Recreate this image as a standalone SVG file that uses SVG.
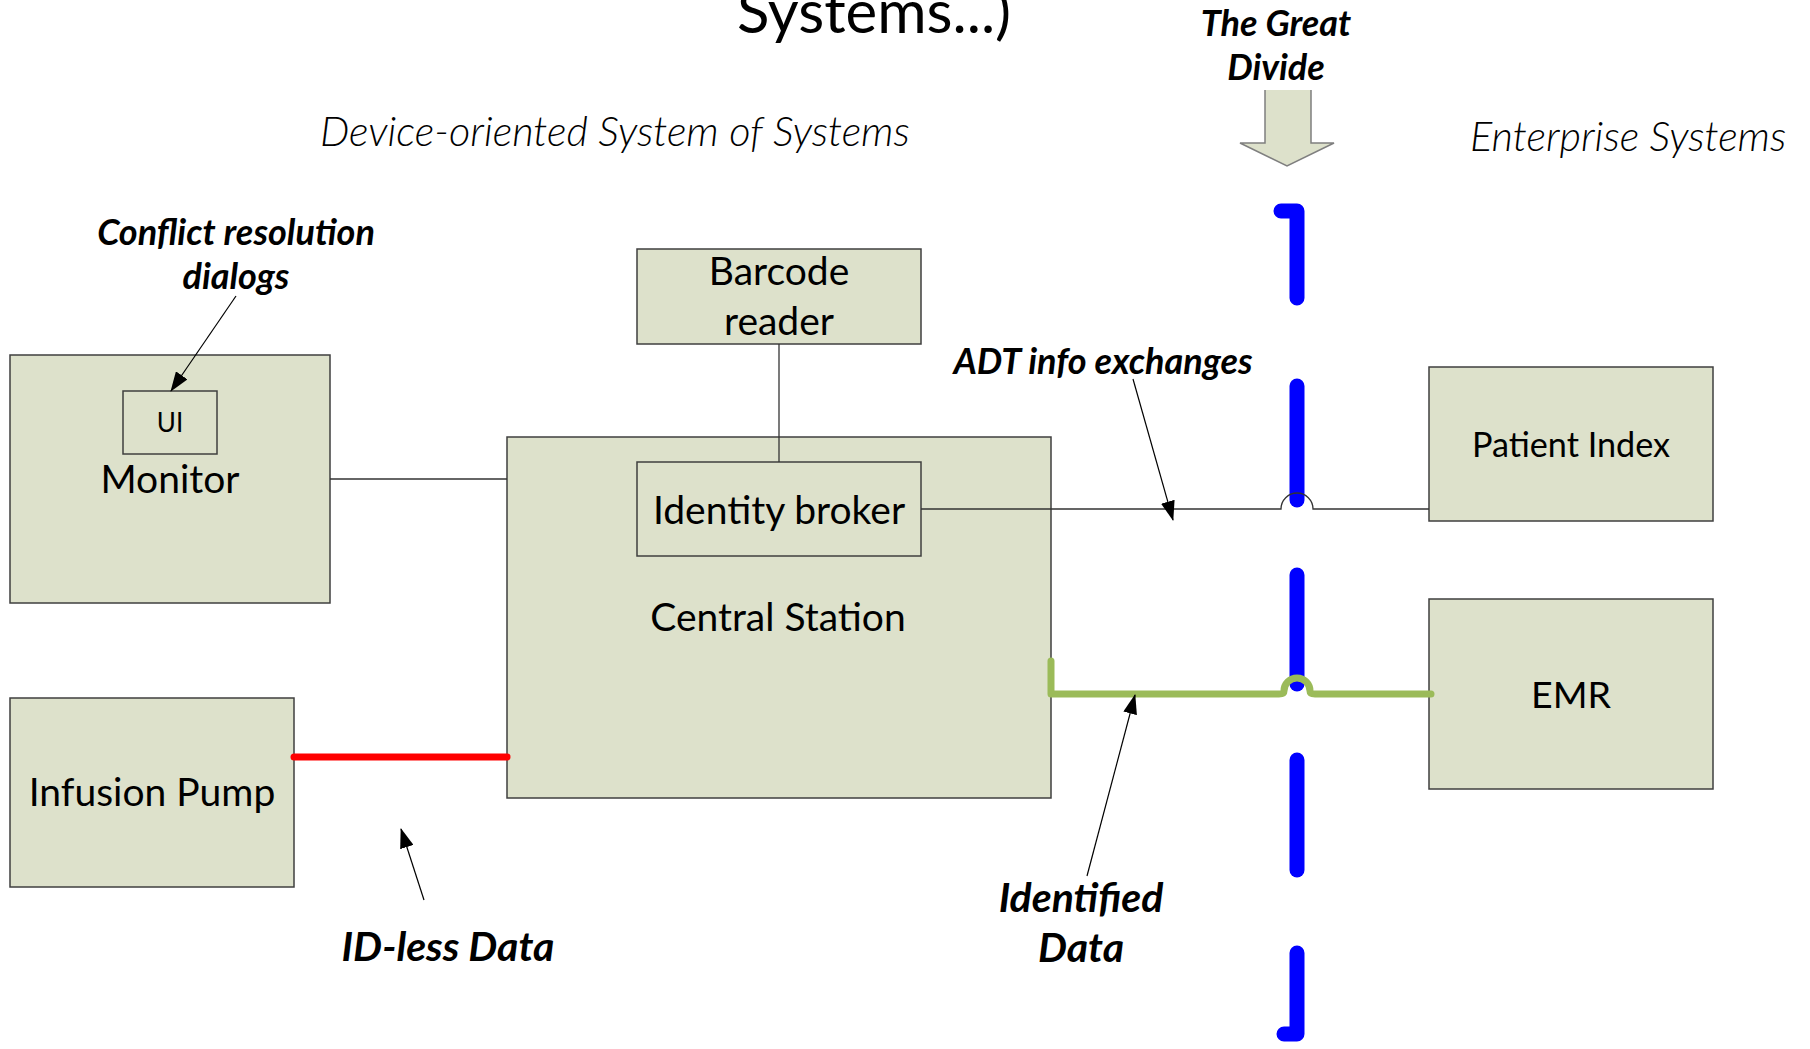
<svg xmlns="http://www.w3.org/2000/svg" width="1810" height="1049" viewBox="0 0 1810 1049">
  <style>
    .box { fill: #DDE1CB; stroke: #3F3F3F; stroke-width: 1.5; }
    .lbl { font-family: Lato, "Open Sans", sans-serif; font-size: 39px; fill: #000; text-anchor: middle; }
    .note { font-family: Lato, "Open Sans", sans-serif; font-weight: bold; font-style: italic; font-size: 36px; fill: #000; text-anchor: middle; }
    .note-lg { font-size: 41px; }
    .side { font-family: Lato, "Open Sans", sans-serif; font-weight: 300; font-style: italic; font-size: 41.5px; fill: #000; }
    .wire { fill: none; stroke: #333; stroke-width: 1.3; }
    .pointer { fill: none; stroke: #000; stroke-width: 1.2; marker-end: url(#tip); }
    .divide { fill: none; stroke: #0000FF; stroke-width: 15; stroke-linecap: round; stroke-linejoin: round; }
  </style>
  <defs>
    <marker id="tip" viewBox="0 0 20 14" refX="19" refY="7" markerWidth="20" markerHeight="14" markerUnits="userSpaceOnUse" orient="auto">
      <path d="M0,0 L20,7 L0,14 Z" fill="#000"/>
    </marker>
  </defs>

  <rect width="1810" height="1049" fill="#fff"/>

  <!-- headings -->
  <text x="874" y="33" font-family="Lato, 'Open Sans', sans-serif" font-size="60" text-anchor="middle">Systems...)</text>
  <text class="side" x="320" y="146">Device-oriented System of Systems</text>
  <text class="side" x="1470" y="151">Enterprise Systems</text>

  <g id="great-divide">
    <text class="note" x="1276" y="36">The Great</text>
    <text class="note" x="1276" y="80">Divide</text>
    <polygon points="1265,90 1311,90 1311,143 1334,143 1287,166 1240,143 1265,143" fill="#DDE1CB"/>
    <path d="M1311,90 V143 H1334 L1287,166 L1240,143 H1265 V90" fill="none" stroke="#7F7F7F" stroke-width="1.5"/>
  </g>

  <!-- dividing line between device and enterprise sides -->
  <g id="divide-line">
    <path class="divide" d="M1281,211 H1297 V298"/>
    <path class="divide" d="M1297,386 V500"/>
    <path class="divide" d="M1297,575 V684"/>
    <path class="divide" d="M1297,760 V870"/>
    <path class="divide" d="M1297,953 V1034 H1284"/>
  </g>

  <!-- nodes -->
  <g id="monitor">
    <rect class="box" x="10" y="355" width="320" height="248"/>
    <text class="lbl" x="170" y="493">Monitor</text>
  </g>
  <g id="ui">
    <rect class="box" x="123" y="391" width="94" height="63"/>
    <text class="lbl" x="170" y="432" style="font-size:26px">UI</text>
  </g>
  <g id="infusion-pump">
    <rect class="box" x="10" y="698" width="284" height="189"/>
    <text class="lbl" x="152" y="806">Infusion Pump</text>
  </g>
  <g id="barcode-reader">
    <rect class="box" x="637" y="249" width="284" height="95"/>
    <text class="lbl" x="779" y="285">Barcode</text>
    <text class="lbl" x="779" y="335">reader</text>
  </g>
  <g id="central-station">
    <rect class="box" x="507" y="437" width="544" height="361"/>
    <text class="lbl" x="778" y="631">Central Station</text>
  </g>
  <g id="identity-broker">
    <rect class="box" x="637" y="462" width="284" height="94"/>
    <text class="lbl" x="779" y="524">Identity broker</text>
  </g>
  <g id="patient-index">
    <rect class="box" x="1429" y="367" width="284" height="154"/>
    <text class="lbl" x="1571" y="457" style="font-size:34.2px">Patient Index</text>
  </g>
  <g id="emr">
    <rect class="box" x="1429" y="599" width="284" height="190"/>
    <text class="lbl" x="1571" y="708" style="font-size:37.5px">EMR</text>
  </g>

  <!-- connectors -->
  <g id="connectors">
    <path class="wire" d="M330,479 H507"/>
    <path class="wire" d="M779,344 V462"/>
    <path class="wire" d="M921,509 H1281 A16,16 0 0 1 1313,509 H1429"/>
    <path d="M294,757 H507" fill="none" stroke="#FF0000" stroke-width="7" stroke-linecap="round"/>
    <path d="M1051,661 V694 H1279 Q1284,694 1284,691 A13,13 0 0 1 1310,691 Q1310,694 1315,694 H1431" fill="none" stroke="#9BBB59" stroke-width="7" stroke-linecap="round" stroke-linejoin="round"/>
  </g>

  <!-- callouts -->
  <g id="callouts">
    <text class="note" x="236" y="245">Conflict resolution</text>
    <text class="note" x="236" y="289">dialogs</text>
    <path class="pointer" d="M236,296 L171,391"/>

    <text class="note" x="1103" y="374">ADT info exchanges</text>
    <path class="pointer" d="M1133,379 L1173,520"/>

    <text class="note note-lg" x="1081" y="912">Identified</text>
    <text class="note note-lg" x="1081" y="962">Data</text>
    <path class="pointer" d="M1087,876 L1135,695"/>

    <text class="note note-lg" x="448" y="961">ID-less Data</text>
    <path class="pointer" d="M424,900 L401,829"/>
  </g>
</svg>
